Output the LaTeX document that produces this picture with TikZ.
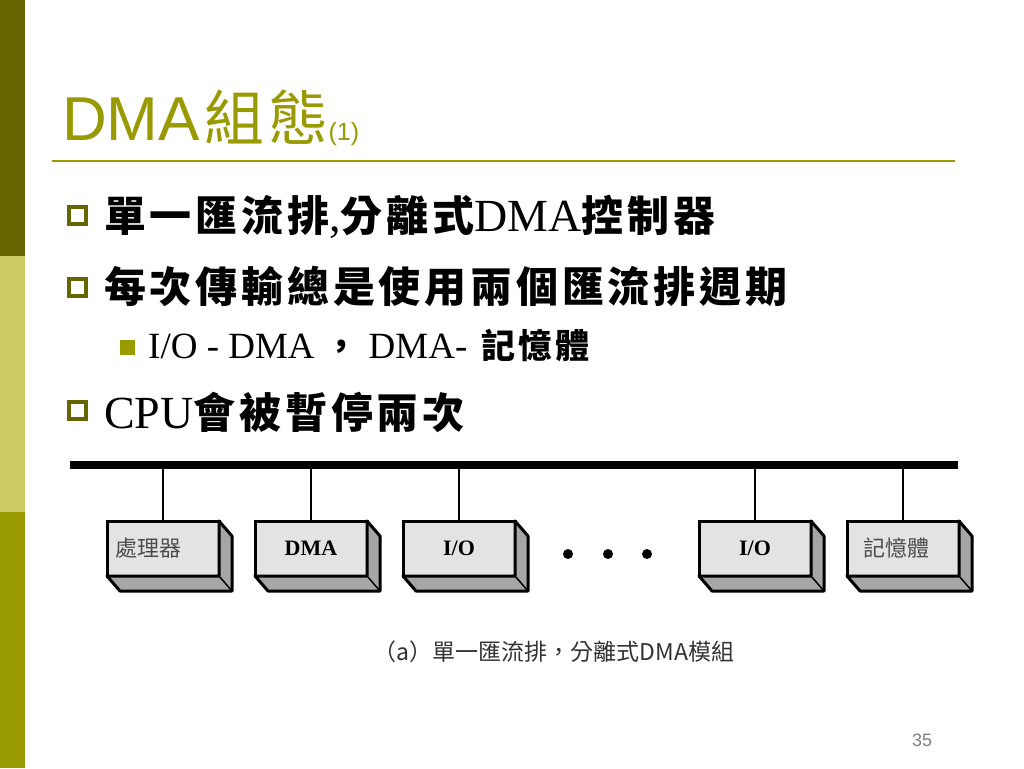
\documentclass[tikz,border=0pt]{standalone}
\usepackage{fontspec}
\usepackage{xcolor}
\setmainfont{Liberation Serif}
\newfontfamily\arial{Liberation Sans}
\newfontfamily\cjk[LetterSpace=9]{Noto Sans CJK TC}
\newfontfamily\cjkhead[LetterSpace=6]{Noto Sans CJK TC}
\newfontfamily\cjkplain{Noto Sans CJK TC}
\usetikzlibrary{positioning}
\definecolor{slideolive}{HTML}{999900}
\definecolor{darkolive}{HTML}{666600}
\definecolor{paleolive}{HTML}{CCCC66}
\definecolor{facegray}{HTML}{E3E3E3}
\definecolor{sidegray}{HTML}{A6A6A6}
\newcommand\zhtxt[1]{{\cjk\bfseries\fontsize{42}{46}\selectfont #1}}
\newcommand\zhsmall[1]{{\cjk\bfseries\fontsize{34}{38}\selectfont #1}}

\begin{document}
\begin{tikzpicture}[x=1pt, y=-1pt, node distance=148pt,
    unit/.style={draw, line width=3pt, fill=facegray, minimum width=112pt, minimum height=55pt, inner sep=0pt, outer sep=0pt, font=\fontsize{22}{24}\selectfont\bfseries},
    unitzh/.style={font=\cjkplain\fontsize{22}{24}\selectfont, text=black!70, align=left},
    depth/.style={fill=sidegray, draw, line width=3pt, line join=round},
    tap/.style={line width=1.2pt},
    bullet/.style={draw=darkolive, line width=3.5pt, minimum size=17pt, inner sep=0pt},
    line/.style={anchor=base west, inner sep=0pt, font=\fontsize{46}{50}\selectfont}]
    \useasboundingbox (0,0) rectangle (1024,768);
    \fill[white] (0,0) rectangle (1024,768);
    \fill[darkolive] (0,0) rectangle (25,256);
    \fill[paleolive] (0,256) rectangle (25,512);
    \fill[slideolive] (0,512) rectangle (25,768);

    \node (title) [anchor=base west, inner sep=0pt, text=slideolive, font=\arial\fontsize{62}{66}\selectfont] at (62,140) {DMA\hspace{5pt}{\cjkhead\fontsize{60}{64}\selectfont 組態}{\fontsize{25}{28}\selectfont(1)}};
    \draw [slideolive, line width=2pt] (52,161) -- (955,161);

    \node (b1) [bullet] at (77.5,215.5) {};
    \node (l1) [line] at (104,231) {\zhtxt{單一匯流排},\zhtxt{分離式}DMA\zhtxt{控制器}};
    \node (b2) [bullet] at (77.5,287.5) {};
    \node (l2) [line] at (104,302) {\zhtxt{每次傳輸總是使用兩個匯流排週期}};
    \node (b3) [fill=slideolive, minimum size=15pt, inner sep=0pt] at (127,347) {};
    \node (l3) [line, font=\fontsize{37}{40}\selectfont] at (148,358) {I/O - DMA\hspace{10pt}\zhsmall{，}\hspace{10pt}DMA-\hspace{14pt}\zhsmall{記憶體}};
    \node (b4) [bullet] at (77.5,410.5) {};
    \node (l4) [line] at (104,428) {CPU\zhtxt{會被暫停兩次}};

    \node (bus) [fill=black, minimum width=888pt, minimum height=8pt, inner sep=0pt] at (514,465) {};
    \node (cpu) [unit, unitzh, text width=96pt] at (163,548.5) {處理器};
    \node (dma) [unit, right of=cpu] {DMA};
    \node (io1) [unit, right of=dma] {I/O};
    \node (io2) [unit, right of=io1, xshift=148pt] {I/O};
    \node (mem) [unit, unitzh, text width=80pt, right of=io2] {記憶體};

    \foreach \u in {cpu,dma,io1,io2,mem} {
        \draw [tap] (\u) -- (\u |- bus.south);
        \filldraw [depth] (\u.north east) -- ++(13,15) -- ++(0,55) -- ++(-112,0) -- (\u.south west) -- (\u.south east) -- cycle;
        \draw [line width=1.5pt] (\u.south east) -- ++(13,15);
    }
    \foreach \x in {568,608,647}
        \fill (\x,554) circle (5pt);

    \node (caption) [text=black!80, font=\cjkplain\fontsize{23}{26}\selectfont] at (554,652) {（a）單一匯流排，分離式DMA模組};
    \node (pageno) [text=black!50, font=\arial\fontsize{18}{20}\selectfont] at (922,740) {35};
\end{tikzpicture}
\end{document}
